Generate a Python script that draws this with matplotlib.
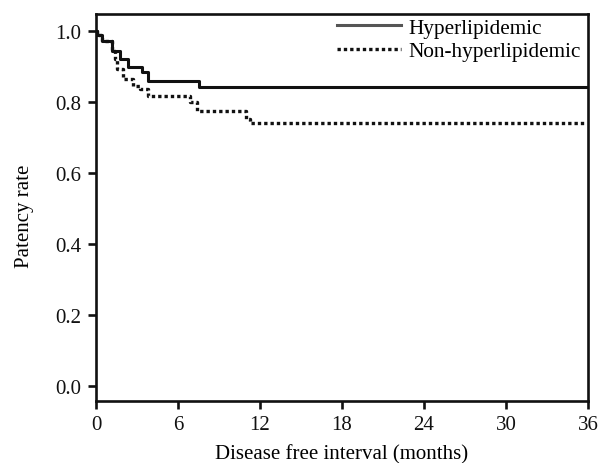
import matplotlib
matplotlib.use("Agg")
import matplotlib.pyplot as plt

# Kaplan-Meier step estimates (months, patency)
hyper_t = [0, 0.05, 0.42, 1.15, 1.76, 2.37, 3.34, 3.83, 7.55, 36]
hyper_v = [1.0, 0.99, 0.973, 0.945, 0.921, 0.898, 0.884, 0.86, 0.843, 0.843]

nonhyper_t = [0, 0.05, 0.42, 1.15, 1.39, 1.51, 2.0, 2.73, 3.2, 3.83, 6.88, 7.37, 11.0, 11.27, 35.7]
nonhyper_v = [1.0, 0.99, 0.973, 0.945, 0.921, 0.893, 0.865, 0.846, 0.837, 0.817, 0.799, 0.774, 0.752, 0.741, 0.741]

x_ticks = [0, 6, 12, 18, 24, 30, 36]
y_ticks = [0.0, 0.2, 0.4, 0.6, 0.8, 1.0]

plt.rcParams["font.family"] = ["Liberation Serif", "DejaVu Serif"]

W, H = 598, 464
fig = plt.figure(figsize=(W / 100, H / 100), dpi=100)
ax = fig.add_axes([96 / W, 1 - 402 / H, (588 - 96) / W, (402 - 15) / H])

ax.step(hyper_t, hyper_v, where="post", color="#111111", lw=2.2,
        label="Hyperlipidemic")
ax.step(nonhyper_t, nonhyper_v, where="post", color="#111111", lw=2.4,
        linestyle=(0, (1.0, 0.9)), label="Non-hyperlipidemic")

ax.set_xlim(0, 36)
ax.set_ylim(-0.0423, 1.048)
ax.set_xticks(x_ticks)
ax.set_xticklabels([str(t) for t in x_ticks])
ax.set_yticks(y_ticks)
ax.set_yticklabels([f"{v:.1f}" for v in y_ticks])

for s in ax.spines.values():
    s.set_linewidth(1.9)
    s.set_color("#111111")

ax.tick_params(axis="both", direction="out", length=6, width=1.9,
               labelsize=15, colors="#111111")
ax.tick_params(axis="x", pad=4)
ax.tick_params(axis="y", pad=4.5)

ax.set_xlabel("Disease free interval (months)", fontsize=15)
ax.set_ylabel("Patency rate", fontsize=15)
ax.xaxis.set_label_coords(0.5, -0.110)
ax.yaxis.set_label_coords(-0.126, 0.48)

leg = ax.legend(loc="upper left", bbox_to_anchor=(337 / W, 1 - 19 / H),
                bbox_transform=fig.transFigure, frameon=False,
                fontsize=15.3, handlelength=3.0, handletextpad=0.35,
                labelspacing=0.15, borderaxespad=0.0, borderpad=0.0)
leg.get_lines()[0].set_color("#555555")

fig.savefig("out.png", dpi=100)
